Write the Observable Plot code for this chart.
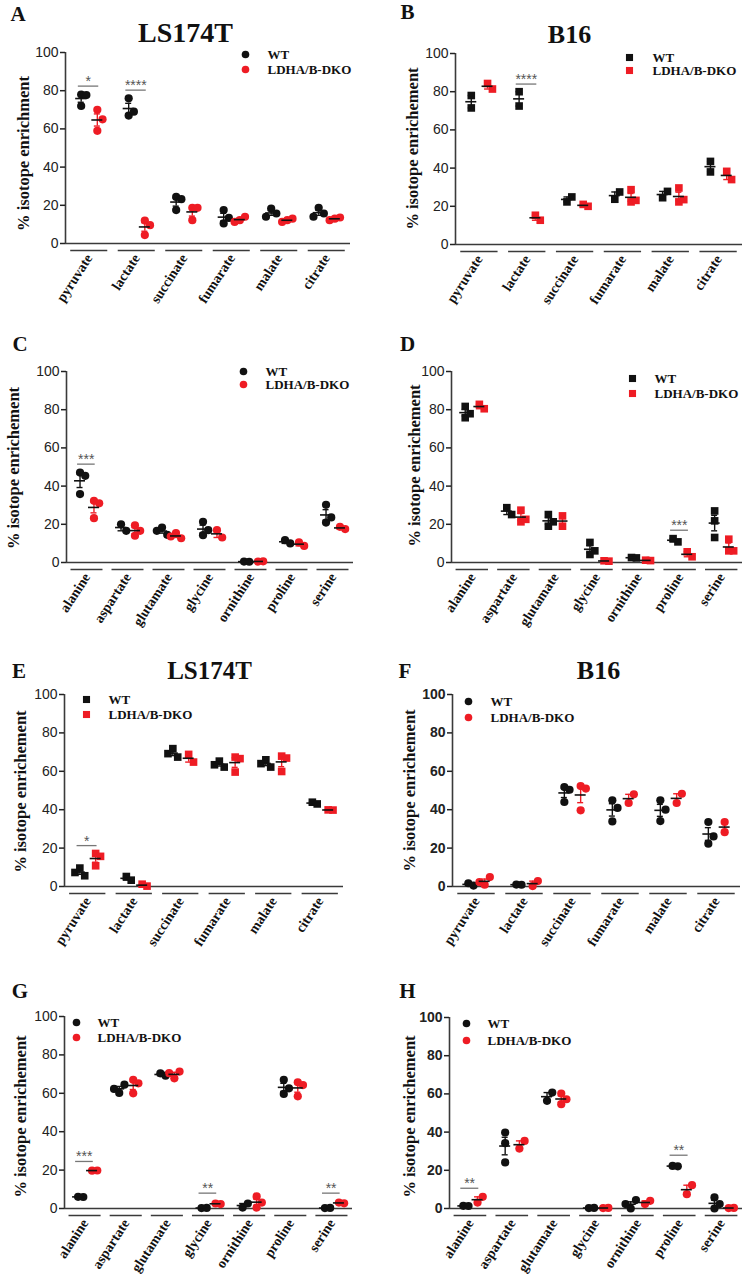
<!DOCTYPE html>
<html><head><meta charset="utf-8">
<script src="https://cdn.jsdelivr.net/npm/d3@7"></script>
<script src="https://cdn.jsdelivr.net/npm/@observablehq/plot@0.6"></script>
<style>
body{margin:0;background:#fff;}
#fig{position:relative;width:745px;height:1277px;overflow:hidden;background:#fff;}
#fig svg{position:absolute;}
</style></head><body><div id="fig"></div>
<script>
// ---------- data ----------
const yTicks = [0, 20, 40, 60, 80, 100];
const groupNames = ["WT", "LDHA/B-DKO"];
const tcaCats = ["pyruvate", "lactate", "succinate", "fumarate", "malate", "citrate"];
const aaCats = ["alanine", "aspartate", "glutamate", "glycine", "ornithine", "proline", "serine"];

// A: LS174T, TCA metabolites
const aWT = [[72, 78, 77.7], [67, 76, 69], [17.5, 24.4, 23.2], [10.5, 17.5, 13.4], [18.3, 15.7, 14], [18.7, 15.7, 14]];
const aKO = [[59, 70, 65], [4.4, 12, 9.6], [12.2, 18.7, 18.7], [12.2, 14, 11.3], [12.2, 13, 11.3], [13, 13.6, 12.2]];
const aSig = [["pyruvate", 82.4, "*"], ["lactate", 80.3, "****"]];
// B: B16, TCA metabolites
const bWT = [[78, 71.5], [80, 72.5], [22.3, 24.9], [23.7, 27.5], [24.5, 27.8], [38, 43.5]];
const bKO = [[84.3, 81.4], [15.3, 12.7], [21, 20], [28.7, 22.3, 23.1], [29.6, 22.3, 23.5], [38.3, 34]];
const bSig = [["lactate", 84, "****"]];
// C: LS174T, amino acids
const cWT = [[47.1, 35.8, 45.4], [20, 16.6], [18.3, 14.5, 16.6], [14.3, 21.3, 16.9], [0.5, 0.4], [11.7, 10], [20.9, 30.2, 23.6]];
const cKO = [[32.3, 23.2, 31], [19.5, 14, 16.6], [15.4, 12.7, 13.6], [16.9, 13.1], [0.5, 0.6], [10.5, 8.7], [18.7, 17.5]];
const cSig = [["alanine", 51.5, "***"]];
// D: B16, amino acids
const dWT = [[81.7, 75.8, 77.9], [28.7, 25.1], [19, 25.1, 21.3], [4.2, 10.5, 6.1], [2.6, 2.4], [12.5, 10.8], [27, 13.1, 21.8]];
const dKO = [[82.8, 80.5], [21.3, 27.4, 22.6], [24.4, 19], [0.9, 0.7], [1.2, 1.0], [5.6, 3], [6.1, 12.2, 6.1]];
const dSig = [["proline", 16.9, "***"]];
// E: LS174T, TCA metabolites
const eWT = [[9.6, 5.6, 7.3], [5.2, 3.3], [71.8, 67.4, 69.2], [65.3, 62.2, 63.4], [66, 62.2, 64], [43.9, 43]];
const eKO = [[10.8, 17.2, 15.7], [1.2, 0.2], [68.8, 64.8], [59.6, 67.4, 66.6], [59.9, 67.9, 66.9], [39.9, 39.8]];
const eSig = [["pyruvate", 21.3, "*"]];
// F: B16, TCA metabolites
const fWT = [[1.7, 0.5], [1, 0.9], [44, 51.8, 50.4], [33.9, 44.9, 40.9], [34.1, 44.9, 40], [22.3, 33.6, 26.1]];
const fKO = [[0.9, 4.9, 2.3], [0.2, 2.8], [39.7, 52.3, 51], [43.5, 48], [43.5, 48.3], [28.3, 33.6]];
const fSig = [];
// G: LS174T, amino acids
const gWT = [[6.1, 6.0], [60.2, 64.5, 62.3], [70.4, 69.2], [0.2, 0.3], [0.5, 2.6], [59.7, 67, 62.6], [0.2, 0.3]];
const gKO = [[19.7, 19.8], [60, 67, 65.2], [67.8, 71.3, 70.5], [2.6, 2.3], [0.5, 6.3, 3.1], [58.4, 65.7, 64.3], [3.1, 2.7]];
const gSig = [["alanine", 24.5, "***"], ["glycine", 8, "**"], ["serine", 8, "**"]];
// H: B16, amino acids
const hWT = [[1.4, 1.3], [24.1, 39.8, 34.2], [56.4, 60.7], [0.2, 0.3], [0, 4.4, 2.3], [22.3, 22.1], [0, 5.8, 2.3]];
const hKO = [[3.1, 6.1], [31.4, 35.4], [54.6, 60.2, 57.2], [0.2, 0.3], [2.3, 4], [7.5, 12.2], [0.2, 0.3]];
const hSig = [["alanine", 10.6, "**"], ["proline", 27.9, "**"]];

// ---------- layout ----------
const RED = "#ee1c24", BLACK = "#111";
const SERIF = "'Liberation Serif', 'Times New Roman', serif";
const SANS = "'Liberation Sans', Arial, sans-serif";

const panels = [
  {cats: tcaCats, wt: aWT, ko: aKO, sig: aSig, shape: "circle", left: 0, top: 0, w: 372, h: 320, mL: 65, mR: 22, mT: 52, mB: 77,
   letter: ["A", 17.5, 13.5], title: ["LS174T", 185, 32.5, 28], ylab: ["% isotope enrichment", 23, 153], leg: [245, 54, 69, 267], boldTicks: false},
  {cats: tcaCats, wt: bWT, ko: bKO, sig: bSig, shape: "square", left: 372, top: 0, w: 373, h: 320, mL: 83, mR: 3, mT: 53, mB: 76,
   letter: ["B", 35, 12], title: ["B16", 197, 34.5, 26], ylab: ["% isotope enrichement", 40, 148], leg: [257, 57, 70, 280], boldTicks: false},
  {cats: aaCats, wt: cWT, ko: cKO, sig: cSig, shape: "circle", left: 0, top: 320, w: 372, h: 320, mL: 66, mR: 19, mT: 51, mB: 78,
   letter: ["C", 19.5, 23.5], title: null, ylab: ["% isotope enrichement", 13, 147.5], leg: [243, 51, 64, 265], boldTicks: false},
  {cats: aaCats, wt: dWT, ko: dKO, sig: dSig, shape: "square", left: 372, top: 320, w: 373, h: 320, mL: 79, mR: 3, mT: 51, mB: 78,
   letter: ["D", 35, 23.5], title: null, ylab: ["% isotope enrichement", 42, 145], leg: [260, 58, 73, 282], boldTicks: false},
  {cats: tcaCats, wt: eWT, ko: eKO, sig: eSig, shape: "square", left: 0, top: 640, w: 372, h: 320, mL: 64, mR: 29, mT: 54, mB: 74,
   letter: ["E", 18.5, 31], title: ["LS174T", 209, 30.5, 25], ylab: ["% isotope enrichement", 20, 151], leg: [86, 59, 74, 108], boldTicks: false},
  {cats: tcaCats, wt: fWT, ko: fKO, sig: fSig, shape: "circle", left: 372, top: 640, w: 373, h: 320, mL: 80, mR: 5, mT: 54, mB: 74,
   letter: ["F", 32.5, 31], title: ["B16", 226, 30.5, 26], ylab: ["% isotope enrichement", 37, 150], leg: [96, 61, 77, 118], boldTicks: true},
  {cats: aaCats, wt: gWT, ko: gKO, sig: gSig, shape: "circle", left: 0, top: 960, w: 372, h: 317, mL: 64, mR: 20, mT: 56, mB: 69,
   letter: ["G", 19.5, 31], title: null, ylab: ["% isotope enrichement", 20, 156], leg: [76, 62, 77, 97], boldTicks: false},
  {cats: aaCats, wt: hWT, ko: hKO, sig: hSig, shape: "circle", left: 372, top: 960, w: 373, h: 317, mL: 77, mR: 3, mT: 57, mB: 69,
   letter: ["H", 35, 31], title: null, ylab: ["% isotope enrichement", 37, 156], leg: [94, 63, 80, 115], boldTicks: true}
];

// horizontal spreading of overlapping points (GraphPad-like scatter)
function spread(arr, ppu, diam) {
  const placed = [];
  const s = diam * 0.65;
  const cand = [0, s, -s, 2 * s, -2 * s];
  return arr.map(v => {
    let off = 0;
    for (const c of cand) {
      const ok = placed.every(p => Math.abs(c - p.o) >= s * 0.9 || Math.abs((v - p.v) * ppu) >= diam * 1.2);
      if (ok) { off = c; break; }
    }
    placed.push({o: off, v});
    return off;
  });
}

function render(p) {
  const n = p.cats.length;
  const plotW = p.w - p.mL - p.mR, plotH = p.h - p.mT - p.mB;
  const band = plotW / n;
  const ppu = plotH / 100;
  const square = p.shape === "square";
  const diam = square ? 7.5 : 8;
  const r = square ? 4.3 : 4.1;
  const gOff = 0.17;
  const pts = [], stats = [];
  [[p.wt, 0, -gOff], [p.ko, 1, gOff]].forEach(([vals, g, off]) => {
    vals.forEach((arr, i) => {
      const offs = spread(arr, ppu, diam);
      arr.forEach((v, j) => pts.push({x: i + off + offs[j] / band, y: v, g}));
      const m = d3.mean(arr);
      const se = arr.length > 1 ? d3.deviation(arr) / Math.sqrt(arr.length) : 0;
      stats.push({x: i + off, m, lo: m - se, hi: m + se, g});
    });
  });
  const sigRows = p.sig.map(([c, y, t]) => ({i: p.cats.indexOf(c), y, t}));
  const at = (x, y) => ({frameAnchor: "top-left", dx: x - p.mL, dy: y - p.mT});
  const mw = 5.5 / band, cw = 3 / band;
  const col = g => g === 0 ? BLACK : RED;
  const ax = "#3a3a3a";

  const marks = [
    // category underlines
    Plot.ruleY(d3.range(n), {x1: i => i - 0.39, x2: i => i + 0.39, y: 0, dy: 7, stroke: ax, strokeWidth: 1.6}),
    // axes lines
    Plot.ruleY([0], {stroke: ax, strokeWidth: 1.6}),
    Plot.ruleX([-0.5], {stroke: ax, strokeWidth: 1.6}),
    Plot.axisY({ticks: yTicks, tickSize: 5, tickPadding: 2, fontSize: 14, fontFamily: SANS,
      fontWeight: p.boldTicks ? "bold" : "normal", label: null, color: "#222", strokeWidth: 1.5}),
    Plot.axisX({ticks: d3.range(n), tickFormat: i => p.cats[i], tickSize: 0, tickPadding: 12, tickRotate: -57,
      fontSize: 14, fontFamily: SERIF, fontWeight: "bold", label: null, color: "#111"}),
    // significance
    Plot.ruleY(sigRows, {x1: d => d.i - 0.23, x2: d => d.i + 0.2, y: "y", stroke: "#777", strokeWidth: 1.3}),
    Plot.text(sigRows, {x: d => d.i - 0.02, y: "y", text: "t", dy: 0, lineAnchor: "bottom", fontSize: 14, fontFamily: SANS, fill: "#555"}),
    // points
    Plot.dot(pts, {x: "x", y: "y", r, symbol: p.shape, fill: d => col(d.g), stroke: "none"}),
    // SEM
    Plot.ruleX(stats, {x: "x", y1: "lo", y2: "hi", stroke: d => col(d.g), strokeWidth: 1.4}),
    Plot.ruleY(stats, {x1: d => d.x - cw, x2: d => d.x + cw, y: "hi", stroke: d => col(d.g), strokeWidth: 1.4}),
    Plot.ruleY(stats, {x1: d => d.x - cw, x2: d => d.x + cw, y: "lo", stroke: d => col(d.g), strokeWidth: 1.4}),
    // mean
    Plot.ruleY(stats, {x1: d => d.x - mw, x2: d => d.x + mw, y: "m", stroke: BLACK, strokeWidth: 1.6}),
    // legend
    Plot.dot([0], {...at(p.leg[0], p.leg[1]), r: square ? 4 : 3.8, symbol: p.shape, fill: BLACK}),
    Plot.dot([1], {...at(p.leg[0], p.leg[2]), r: square ? 4 : 3.8, symbol: p.shape, fill: RED}),
    Plot.text([groupNames[0]], {...at(p.leg[3], p.leg[1]), text: d => d, textAnchor: "start", lineAnchor: "middle",
      fontSize: 13, fontFamily: SERIF, fontWeight: "bold", fill: "#111"}),
    Plot.text([groupNames[1]], {...at(p.leg[3], p.leg[2]), text: d => d, textAnchor: "start", lineAnchor: "middle",
      fontSize: 13, fontFamily: SERIF, fontWeight: "bold", fill: "#111"}),
    // panel letter
    Plot.text([p.letter[0]], {...at(p.letter[1], p.letter[2]), text: d => d, textAnchor: "middle", lineAnchor: "middle",
      fontSize: 21, fontFamily: SERIF, fontWeight: "bold", fill: "#111"}),
    // y label
    Plot.text([p.ylab[0]], {...at(p.ylab[1], p.ylab[2]), text: d => d, rotate: -90, textAnchor: "middle", lineAnchor: "middle",
      fontSize: 16.5, fontFamily: SERIF, fontWeight: "bold", fill: "#111"})
  ];
  if (p.title) {
    marks.push(Plot.text([p.title[0]], {...at(p.title[1], p.title[2]), text: d => d, textAnchor: "middle", lineAnchor: "middle",
      fontSize: p.title[3], fontFamily: SERIF, fontWeight: "bold", fill: "#111"}));
  }
  const svg = Plot.plot({
    width: p.w, height: p.h,
    marginLeft: p.mL, marginRight: p.mR, marginTop: p.mT, marginBottom: p.mB,
    x: {domain: [-0.5, n - 0.5], axis: null},
    y: {domain: [0, 100], axis: null},
    style: {background: "transparent", overflow: "visible", fontFamily: SANS},
    marks
  });
  svg.style.left = p.left + "px";
  svg.style.top = p.top + "px";
  return svg;
}

const fig = document.getElementById("fig");
panels.forEach(p => fig.appendChild(render(p)));
</script>
</body></html>
